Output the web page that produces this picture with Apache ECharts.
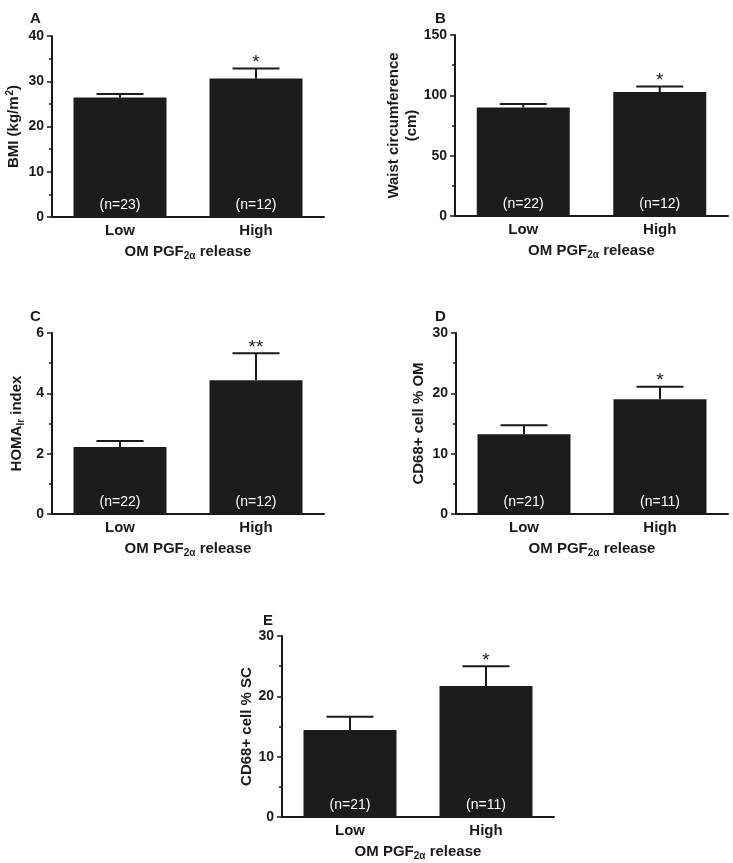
<!DOCTYPE html>
<html>
<head>
<meta charset="utf-8">
<script src="https://cdn.jsdelivr.net/npm/echarts@6/dist/echarts.min.js"></script>
<style>
html,body{margin:0;padding:0;background:#fff;}
#chart{width:733px;height:863px;}
</style>
</head>
<body>
<div id="chart"></div>
<script>
// ---- data ----
const categories = ['Low', 'High'];

const bmiMean = [26.4, 30.6];
const bmiSem = [0.8, 2.2];
const bmiN = ['(n=23)', '(n=12)'];
const bmiSig = ['', '*'];

const waistMean = [89.9, 102.7];
const waistSem = [2.9, 4.7];
const waistN = ['(n=22)', '(n=12)'];
const waistSig = ['', '*'];

const homaMean = [2.22, 4.43];
const homaSem = [0.20, 0.90];
const homaN = ['(n=22)', '(n=12)'];
const homaSig = ['', '**'];

const cd68OmMean = [13.2, 19.0];
const cd68OmSem = [1.5, 2.1];
const cd68OmN = ['(n=21)', '(n=11)'];
const cd68OmSig = ['', '*'];

const cd68ScMean = [14.4, 21.7];
const cd68ScSem = [2.2, 3.3];
const cd68ScN = ['(n=21)', '(n=11)'];
const cd68ScSig = ['', '*'];

const panelLetters = ['A', 'B', 'C', 'D', 'E'];
const yMax = [40, 150, 6, 30, 30];
const yInterval = [10, 50, 2, 10, 10];

// ---- layout ----
const grids = [
  {left: 52, top: 36, width: 272, height: 181},
  {left: 455, top: 35, width: 273, height: 181},
  {left: 52, top: 333, width: 272, height: 181},
  {left: 456, top: 333, width: 272, height: 181},
  {left: 282, top: 636, width: 272, height: 181}
];
const letterPos = [[30, 11], [435, 11], [30, 309], [435, 309], [263, 613]];

const panels = [
  {mean: bmiMean, sem: bmiSem, n: bmiN, sig: bmiSig,
   yName: '{t|BMI (kg/m}{sup|2}{t|)}', nameGap: 29},
  {mean: waistMean, sem: waistSem, n: waistN, sig: waistSig,
   yName: '{t|Waist circumference}\n{t|(cm)}', nameGap: 26},
  {mean: homaMean, sem: homaSem, n: homaN, sig: homaSig,
   yName: '{t|HOMA}{sub|Ir}{t| index}', nameGap: 26},
  {mean: cd68OmMean, sem: cd68OmSem, n: cd68OmN, sig: cd68OmSig,
   yName: '{t|CD68+ cell % OM}', nameGap: 28},
  {mean: cd68ScMean, sem: cd68ScSem, n: cd68ScN, sig: cd68ScSig,
   yName: '{t|CD68+ cell % SC}', nameGap: 26}
];

const FONT = 'Liberation Sans, Arial, sans-serif';
const INK = '#1a1a1a';

const nameRich = {
  t: {fontFamily: FONT, fontWeight: 'bold', fontSize: 15, color: INK, lineHeight: 18},
  sup: {fontFamily: FONT, fontWeight: 'bold', fontSize: 10, color: INK, verticalAlign: 'top', lineHeight: 18, padding: [0, 0, 0, 1]},
  sub: {fontFamily: FONT, fontWeight: 'bold', fontSize: 10, color: INK, verticalAlign: 'bottom', lineHeight: 12, padding: [7, 0, 0, 0]}
};
const xNameRich = {
  t: {fontFamily: FONT, fontWeight: 'bold', fontSize: 15, color: INK},
  sub: {fontFamily: FONT, fontWeight: 'bold', fontSize: 10, color: INK, padding: [8, 0, 0, 0]}
};

const option = {
  animation: false,
  backgroundColor: '#ffffff',
  grid: grids,
  xAxis: [],
  yAxis: [],
  series: [],
  graphic: []
};

panels.forEach((p, i) => {
  option.xAxis.push({
    type: 'category', gridIndex: i, data: categories,
    axisLine: {lineStyle: {color: INK, width: 2}},
    axisTick: {show: false},
    axisLabel: {fontFamily: FONT, fontWeight: 'bold', fontSize: 15, color: INK, margin: 6},
    name: '{t|OM PGF}{sub|2\u03b1}{t| release}',
    nameLocation: 'middle', nameGap: 26,
    nameTextStyle: {rich: xNameRich}
  });
  option.yAxis.push({
    type: 'value', gridIndex: i, min: 0, max: yMax[i], interval: yInterval[i],
    splitLine: {show: false},
    axisLine: {show: true, lineStyle: {color: INK, width: 2}},
    axisTick: {show: true, length: 5, lineStyle: {color: INK, width: 1.5}},
    minorTick: {show: true, splitNumber: 2, length: 3, lineStyle: {color: INK, width: 1.5}},
    axisLabel: {fontFamily: FONT, fontWeight: 'bold', fontSize: 14, color: INK, margin: 8},
    name: p.yName, nameLocation: 'middle', nameGap: p.nameGap, nameRotate: 90,
    nameTextStyle: {rich: nameRich}
  });
  option.series.push({
    type: 'bar', xAxisIndex: i, yAxisIndex: i, data: p.mean,
    barWidth: 93,
    itemStyle: {color: '#1c1c1c'},
    label: {
      show: true, position: 'insideBottom', distance: 5,
      formatter: (params) => p.n[params.dataIndex],
      color: '#ffffff', fontFamily: FONT, fontSize: 14
    },
    z: 2
  });
  option.series.push({
    type: 'custom', xAxisIndex: i, yAxisIndex: i,
    data: p.mean.map((m, k) => [k, m, p.sem[k]]),
    encode: {x: 0, y: 1},
    z: 3,
    renderItem: (params, api) => {
      const k = api.value(0);
      const m = api.value(1);
      const e = api.value(2);
      const p0 = api.coord([k, m]);
      const p1 = api.coord([k, m + e]);
      const half = 23.5;
      const st = {stroke: INK, lineWidth: 2};
      return {
        type: 'group',
        children: [
          {type: 'line', shape: {x1: p0[0], y1: p0[1], x2: p1[0], y2: p1[1]}, style: st},
          {type: 'line', shape: {x1: p1[0] - half, y1: p1[1], x2: p1[0] + half, y2: p1[1]}, style: st},
          {type: 'text', x: p1[0], y: p1[1] + 4,
           style: {text: p.sig[params.dataIndex], fontFamily: FONT, fontSize: 19, fill: INK,
                   align: 'center', verticalAlign: 'bottom'}}
        ]
      };
    }
  });
  option.graphic.push({
    type: 'text', left: letterPos[i][0], top: letterPos[i][1],
    style: {text: panelLetters[i], fontFamily: FONT, fontWeight: 'bold', fontSize: 15, fill: INK}
  });
});

const chart = echarts.init(document.getElementById('chart'), null, {renderer: 'canvas'});
chart.setOption(option);
</script>
</body>
</html>
